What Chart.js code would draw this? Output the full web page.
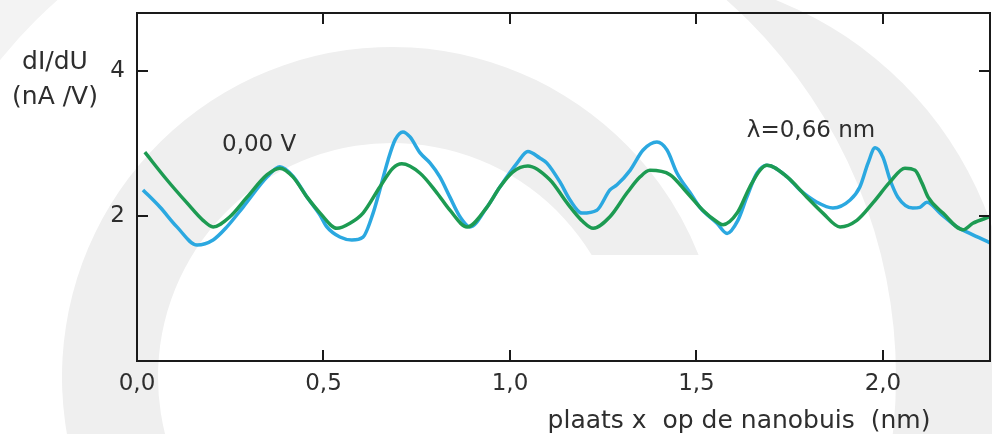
<!DOCTYPE html>
<html><head><meta charset="utf-8">
<script src="https://cdn.jsdelivr.net/npm/chart.js@4.4.0/dist/chart.umd.min.js"></script>
<style>html,body{margin:0;padding:0;background:#fff;}canvas{display:block;}</style>
</head><body>
<canvas id="c" width="992" height="434"></canvas>
<script>
// ---- data ----
const xTicks = [0, 0.5, 1.0, 1.5, 2.0];
const yTicks = [2, 4];
const xMin = 0, xMax = 2.287, yMin = 0, yMax = 4.8;

const blueX = [0.016,0.062,0.107,0.161,0.204,0.241,0.284,0.349,0.383,0.418,0.456,0.491,0.509,0.544,0.576,0.606,0.633,0.651,0.673,0.692,0.713,0.732,0.759,0.786,0.812,0.839,0.866,0.893,0.938,0.973,1.019,1.048,1.080,1.099,1.134,1.161,1.193,1.233,1.268,1.287,1.322,1.357,1.394,1.421,1.448,1.483,1.509,1.555,1.582,1.611,1.635,1.662,1.689,1.743,1.777,1.823,1.866,1.912,1.938,1.960,1.979,2.000,2.019,2.040,2.080,2.099,2.118,2.153,2.198,2.233,2.287];
const blueY = [2.36,2.12,1.85,1.60,1.67,1.85,2.12,2.54,2.68,2.55,2.26,2.01,1.85,1.71,1.67,1.71,2.04,2.36,2.77,3.05,3.16,3.09,2.87,2.73,2.54,2.26,1.99,1.85,2.12,2.40,2.73,2.89,2.80,2.73,2.47,2.22,2.04,2.08,2.36,2.43,2.63,2.91,3.02,2.91,2.59,2.32,2.12,1.90,1.76,1.94,2.26,2.59,2.70,2.54,2.36,2.19,2.11,2.22,2.40,2.73,2.94,2.81,2.50,2.26,2.11,2.12,2.19,2.04,1.85,1.76,1.63];

const greenX = [0.021,0.080,0.134,0.177,0.204,0.249,0.295,0.349,0.383,0.418,0.456,0.491,0.536,0.571,0.606,0.651,0.686,0.710,0.759,0.804,0.839,0.885,0.938,0.973,1.008,1.048,1.107,1.153,1.196,1.223,1.268,1.314,1.349,1.375,1.429,1.475,1.517,1.555,1.571,1.609,1.643,1.670,1.689,1.743,1.796,1.839,1.885,1.930,1.973,2.019,2.059,2.086,2.105,2.121,2.161,2.215,2.241,2.287];
const greenY = [2.88,2.50,2.18,1.94,1.85,1.99,2.26,2.57,2.66,2.54,2.26,2.04,1.83,1.90,2.04,2.40,2.66,2.72,2.59,2.32,2.08,1.85,2.12,2.40,2.61,2.69,2.50,2.18,1.92,1.83,1.99,2.32,2.54,2.63,2.57,2.32,2.08,1.92,1.88,2.04,2.40,2.63,2.70,2.54,2.26,2.04,1.85,1.94,2.18,2.47,2.66,2.63,2.45,2.26,2.04,1.81,1.90,1.99];

const noteTexts = ['0,00 V', 'λ=0,66 nm'];
const noteX = [0.228, 1.635];
const noteY = [2.98, 3.17];

const yTitleLines = ['dI/dU', '(nA /V)'];
const xTitle = 'plaats x  op de nanobuis  (nm)';

// ---- helpers ----
const pts = (xs, ys) => xs.slice(0, Math.min(xs.length, ys.length)).map((x, i) => ({x, y: ys[i]}));
const FONT = 'DejaVu Sans';
const TXT = '#2e2e2e';

const decor = {
  id: 'decor',
  beforeDraw(chart) {
    const ctx = chart.ctx;
    ctx.save();
    ctx.fillStyle = '#ffffff';
    ctx.fillRect(0, 0, chart.width, chart.height);
    ctx.fillStyle = '#efefef';
    // small ring (watermark)
    const cx = 392, cy = 377, rO = 330, rI = 234;
    const aO = 2 * Math.PI - Math.asin((cy - 255) / rO);
    const aI = 2 * Math.PI - Math.asin((cy - 255) / rI);
    ctx.beginPath();
    ctx.arc(cx, cy, rO, 0.8 * Math.PI, aO, false);
    ctx.lineTo(cx + rI * Math.cos(aI), 255);
    ctx.arc(cx, cy, rI, aI, 0.8 * Math.PI, true);
    ctx.closePath();
    ctx.fill();
    // big ring right band
    ctx.save();
    ctx.beginPath();
    ctx.rect(0, 0, chart.width, chart.height);
    ctx.arc(cx, cy, 504, 0, 2 * Math.PI, true);
    ctx.clip('evenodd');
    ctx.beginPath();
    ctx.arc(639, 347, 373, 0, 2 * Math.PI);
    ctx.fill();
    ctx.fillStyle = '#f3f3f3';
    ctx.fillRect(0, 0, 200, 150);
    ctx.restore();
    ctx.restore();
  },
  afterDatasetsDraw(chart) {
    const ctx = chart.ctx, a = chart.chartArea;
    const xs = chart.scales.x, ys = chart.scales.y;
    ctx.save();
    ctx.strokeStyle = '#1a1a1a';
    ctx.lineWidth = 2;
    ctx.strokeRect(a.left, a.top, a.right - a.left, a.bottom - a.top);
    const L = 11;
    ctx.beginPath();
    xTicks.forEach(v => {
      const p = Math.round(xs.getPixelForValue(v));
      ctx.moveTo(p, a.bottom); ctx.lineTo(p, a.bottom - L);
      ctx.moveTo(p, a.top); ctx.lineTo(p, a.top + L);
    });
    yTicks.forEach(v => {
      const p = Math.round(ys.getPixelForValue(v));
      ctx.moveTo(a.left, p); ctx.lineTo(a.left + L, p);
      ctx.moveTo(a.right, p); ctx.lineTo(a.right - L, p);
    });
    ctx.stroke();
    // notes
    ctx.fillStyle = TXT;
    ctx.font = '23px "' + FONT + '"';
    ctx.textAlign = 'left';
    ctx.textBaseline = 'middle';
    noteTexts.forEach((t, i) => {
      ctx.fillText(t, xs.getPixelForValue(noteX[i]), ys.getPixelForValue(noteY[i]));
    });
    // axis titles
    ctx.font = '25px "' + FONT + '"';
    ctx.textAlign = 'center';
    ctx.fillText(yTitleLines[0], 55, 62);
    ctx.fillText(yTitleLines[1], 55, 97);
    ctx.textBaseline = 'alphabetic';
    ctx.fillText(xTitle, 739, 428);
    ctx.restore();
  }
};

new Chart(document.getElementById('c'), {
  type: 'line',
  data: {
    datasets: [
      {label: 'groen', data: pts(greenX, greenY), borderColor: '#1d9b52', borderWidth: 3.5, order: 0},
      {label: 'blauw', data: pts(blueX, blueY), borderColor: '#2ba8e0', borderWidth: 3.5, order: 1}
    ]
  },
  options: {
    responsive: false,
    devicePixelRatio: 1,
    animation: false,
    layout: {padding: {top: 13, right: 2, left: 0, bottom: 0}},
    elements: {point: {radius: 0}, line: {cubicInterpolationMode: 'monotone', fill: false}},
    plugins: {legend: {display: false}, tooltip: {enabled: false}},
    scales: {
      x: {
        type: 'linear', min: xMin, max: xMax,
        afterBuildTicks: s => { s.ticks = xTicks.map(v => ({value: v})); },
        afterFit: s => { s.height = 73; s.paddingLeft = 0; s.paddingRight = 0; },
        grid: {display: false, drawTicks: false},
        border: {display: false},
        ticks: {
          callback: v => Number(v).toFixed(1).replace('.', ','),
          font: {family: FONT, size: 23}, color: TXT, padding: 9,
          maxRotation: 0, autoSkip: false
        }
      },
      y: {
        type: 'linear', min: yMin, max: yMax,
        afterBuildTicks: s => { s.ticks = yTicks.map(v => ({value: v})); },
        afterFit: s => { s.width = 137; s.paddingTop = 0; s.paddingBottom = 0; },
        grid: {display: false, drawTicks: false},
        border: {display: false},
        ticks: {
          callback: v => String(v),
          font: {family: FONT, size: 23}, color: TXT, padding: 12
        }
      }
    }
  },
  plugins: [decor]
});
</script>
</body></html>
